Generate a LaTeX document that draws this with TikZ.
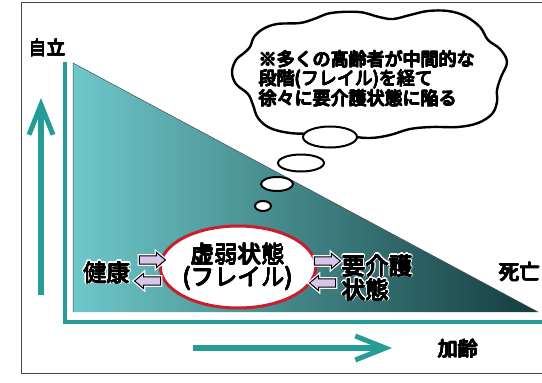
\documentclass[tikz,border=0pt]{standalone}
\usepackage{fontspec}
\newfontfamily\cjk{Noto Sans CJK JP}
\usepackage{contour}
\newcommand\bt[1]{{\contourlength{0.4pt}\contournumber{8}\contour{black}{#1}}}
\newcommand\halotxt[1]{{\contourlength{1.6pt}\contournumber{16}\contour{white}{#1}}}
\usetikzlibrary{arrows.meta,shapes.arrows,shapes.geometric}
\definecolor{tealax}{RGB}{38,156,150}
\definecolor{lav}{RGB}{216,198,234}
\definecolor{fred}{RGB}{200,30,45}
\definecolor{framec}{RGB}{70,70,70}
\definecolor{triL}{RGB}{110,200,202}
\definecolor{triM}{RGB}{52,138,138}
\definecolor{triR}{RGB}{20,60,62}
\tikzset{
  lbl/.style={font=\cjk\fontsize{#1}{#1}\selectfont, inner sep=0pt},
  bubble/.style={ellipse, draw=black, line width=2pt, fill=white, inner sep=0pt},
  blockarrow/.style={single arrow, draw=black, fill=lav, line width=1pt,
     minimum height=26pt, inner sep=3.6pt, single arrow head extend=3.6pt,
     single arrow tip angle=80, single arrow head indent=0pt,
     preaction={draw=white, line width=3.5pt}},
  axisarrow/.style={draw=tealax, line width=6pt,
     -{Straight Barb[length=30pt,width=24pt,line width=5pt]}}
}
\begin{document}
\begin{tikzpicture}[x=1pt,y=-1pt]
\useasboundingbox (0,0) rectangle (542,383);
\fill[white] (0,0) rectangle (542,383);
% frame
\draw[framec, line width=1pt] (560,2) -- (21,2) -- (21,373) -- (560,373);
% triangle
\shade[left color=triL, middle color=triM, right color=triR] (73,63) -- (538,312) -- (73,312) -- cycle;
\draw[black!70, line width=0.5pt] (73,312) -- (73,63) -- (538,312);
% axes
\coordinate (ytop) at (65,62);
\coordinate (orig) at (65,322);
\coordinate (xend) at (545,322);
\draw[tealax, line width=3.5pt] (ytop) -- (orig) -- (xend);
% big arrows
\coordinate (ua0) at (41,295);
\coordinate (ua1) at (41,98);
\draw[axisarrow] (ua0) -- (ua1);
\coordinate (ra0) at (193,348);
\coordinate (ra1) at (392,348);
\draw[axisarrow] (ra0) -- (ra1);
% labels
\node[lbl=18.5] (jiritsu) at (47,48) {\bt{自立}};
\node[lbl=20] (karei) at (458,349) {\bt{加齢}};
\node[lbl=20.5, anchor=west] (shibo) at (499,272) {\bt{死亡}};
% thought cloud
\draw[line width=2.4pt, fill=white] plot[smooth cycle, tension=0.6] coordinates {
 (250,47) (254,37) (263,29) (277,24) (300,23) (314,19) (331,13) (359,12)
 (379,17) (393,19) (410,15) (428,11) (448,11) (465,16) (480,27) (488,40)
 (500,49) (507,62) (501,77) (497,90) (497,102) (492,114) (478,123) (458,127)
 (432,127) (410,129) (390,135) (370,138) (345,136) (315,134) (290,133) (270,128)
 (258,118) (253,105) (248,94) (236,84) (232,72) (236,60) (244,53)};
\node[anchor=west, align=left, inner sep=0pt, font=\cjk\fontsize{18}{19}\selectfont] (note) at (259,79)
 {\bt{※多くの高齢者が中間的な}\\\bt{段階(フレイル)を経て}\\\bt{徐々に要介護状態に陥る}};
\node[bubble, minimum width=54pt, minimum height=21pt] (b1) at (330,137) {};
\node[bubble, minimum width=46pt, minimum height=17pt] (b2) at (301,163) {};
\node[bubble, minimum width=32pt, minimum height=14pt] (b3) at (277,184) {};
\node[bubble, minimum width=16pt, minimum height=10pt] (b4) at (263,206) {};
% frailty ellipse
\node[ellipse, draw=fred, line width=3pt, fill=white, minimum width=140pt, minimum height=82pt,
  align=center, font=\cjk\fontsize{23.5}{21.5}\selectfont, inner sep=0pt] (frail) at (238,267)
  {\bt{虚弱状態}\\\bt{(フレイル)}};
% health
\node[lbl=23.5] (healthhalo) at (107,273) {\halotxt{健康}};
\node[lbl=23.5] (health) at (107,273) {\bt{健康}};
\node[blockarrow] (h1) at (150,260) {};
\node[blockarrow, shape border rotate=180] (h2) at (150,281) {};
% care
\node[blockarrow] (c1) at (325,261) {};
\node[blockarrow, shape border rotate=180] (c2) at (325,283) {};
\node[anchor=west, align=left, inner sep=0pt, font=\cjk\fontsize{23.5}{24}\selectfont] (carehalo) at (342,278)
  {\halotxt{要介護}\\\halotxt{状態}};
\node[anchor=west, align=left, inner sep=0pt, font=\cjk\fontsize{23.5}{24}\selectfont] (care) at (342,278)
  {\bt{要介護}\\\bt{状態}};
\end{tikzpicture}
\end{document}
